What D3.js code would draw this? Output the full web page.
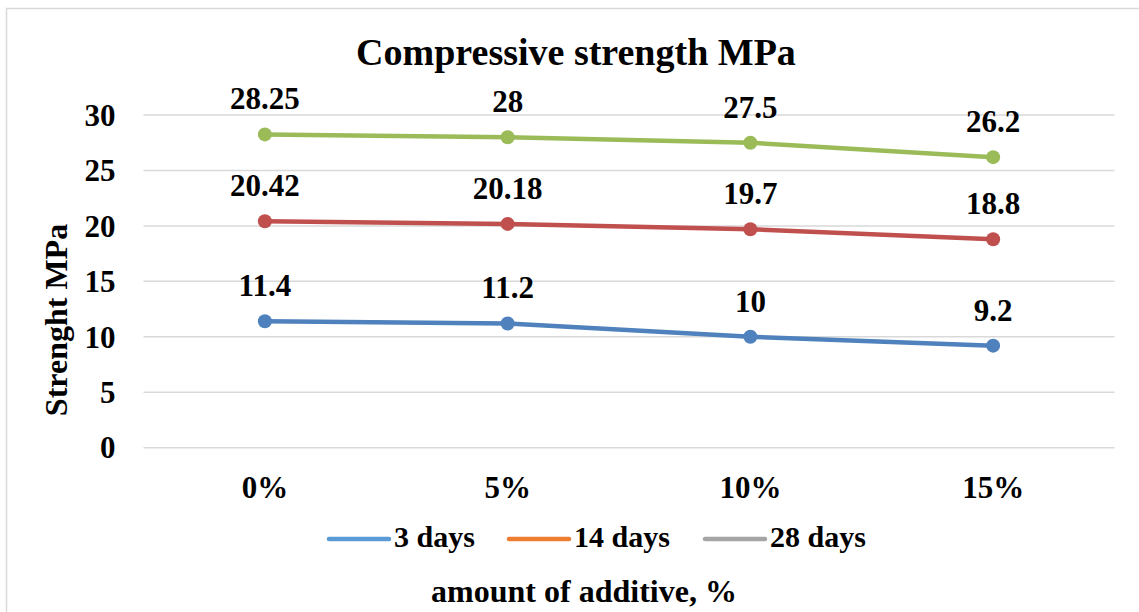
<!DOCTYPE html>
<html>
<head>
<meta charset="utf-8">
<script src="https://cdn.jsdelivr.net/npm/d3@7"></script>
<style>
  html, body { margin: 0; padding: 0; background: #ffffff; }
  svg { display: block; }
  text { font-family: "Liberation Serif", "Times New Roman", serif; font-weight: bold; fill: #000; }
</style>
</head>
<body>
<svg id="chart" width="1139" height="612"></svg>
<script>
// Compressive strength by additive amount and curing age
const categories = ["0%", "5%", "10%", "15%"];
const seriesNames = ["3 days", "14 days", "28 days"];
const days3 = [11.4, 11.2, 10, 9.2];
const days14 = [20.42, 20.18, 19.7, 18.8];
const days28 = [28.25, 28, 27.5, 26.2];
const yTicks = [0, 5, 10, 15, 20, 25, 30];

const lineColors = ["#4f81bd", "#c0504d", "#9bbb59"];
const legendColors = ["#5b9bd5", "#ed7d31", "#a5a5a5"];

const series = [
  { name: seriesNames[0], values: days3 },
  { name: seriesNames[1], values: days14 },
  { name: seriesNames[2], values: days28 }
];

const svg = d3.select("#chart");

// outer chart frame
svg.append("rect")
  .attr("x", 6.5).attr("y", 8.5)
  .attr("width", 1150).attr("height", 620)
  .attr("fill", "#fff")
  .attr("stroke", "#d9d9d9").attr("stroke-width", 1.5);

const plot = { left: 143.5, right: 1114.5, top: 115, bottom: 447.7 };

const x = d3.scaleBand().domain(categories).range([plot.left, plot.right]);
const y = d3.scaleLinear().domain([0, 30]).range([plot.bottom, plot.top]);
const cx = c => x(c) + x.bandwidth() / 2;

// horizontal gridlines
svg.append("g")
  .selectAll("line")
  .data(yTicks)
  .join("line")
  .attr("x1", plot.left).attr("x2", plot.right)
  .attr("y1", d => y(d)).attr("y2", d => y(d))
  .attr("stroke", "#d9d9d9").attr("stroke-width", 1.5);

// y axis tick labels
const yAxis = svg.append("g")
  .attr("transform", `translate(${plot.left - 28},0)`)
  .call(d3.axisLeft(y).tickValues(yTicks).tickSize(0).tickPadding(0));
yAxis.select(".domain").remove();
yAxis.selectAll("text")
  .attr("font-size", 31)
  .attr("font-family", null)
  .attr("dy", "0.33em");

// category labels
const xAxis = svg.append("g")
  .attr("transform", `translate(0,${plot.bottom})`)
  .call(d3.axisBottom(x).tickSize(0).tickPadding(0));
xAxis.select(".domain").remove();
xAxis.selectAll("text")
  .attr("font-size", 31)
  .attr("font-family", null)
  .attr("dy", null)
  .attr("y", 50);

// series lines, markers and value labels
const line = d3.line().x((d, i) => cx(categories[i])).y(d => y(d));

series.forEach((s, k) => {
  const g = svg.append("g");
  g.append("path")
    .datum(s.values)
    .attr("d", line)
    .attr("fill", "none")
    .attr("stroke", lineColors[k])
    .attr("stroke-width", 4.5)
    .attr("stroke-linejoin", "round")
    .attr("stroke-linecap", "round");
  g.selectAll("circle")
    .data(s.values)
    .join("circle")
    .attr("cx", (d, i) => cx(categories[i]))
    .attr("cy", d => y(d))
    .attr("r", 7)
    .attr("fill", lineColors[k]);
  g.selectAll("text")
    .data(s.values)
    .join("text")
    .attr("x", (d, i) => cx(categories[i]))
    .attr("y", d => y(d) - 25)
    .attr("text-anchor", "middle")
    .attr("font-size", 31)
    .text(d => String(d));
});

// title
svg.append("text")
  .attr("x", 576).attr("y", 65)
  .attr("text-anchor", "middle")
  .attr("font-size", 38)
  .text("Compressive strength MPa");

// y axis title
svg.append("text")
  .attr("transform", "translate(67,320) rotate(-90)")
  .attr("text-anchor", "middle")
  .attr("font-size", 32)
  .text("Strenght MPa");

// legend
const legendX = [327, 507, 703];
const legend = svg.append("g");
seriesNames.forEach((name, k) => {
  legend.append("line")
    .attr("x1", legendX[k] + 2).attr("x2", legendX[k] + 62)
    .attr("y1", 539).attr("y2", 539)
    .attr("stroke", legendColors[k])
    .attr("stroke-width", 4.5)
    .attr("stroke-linecap", "round");
  legend.append("text")
    .attr("x", legendX[k] + 67).attr("y", 547)
    .attr("font-size", 30)
    .text(name);
});

// x axis title
svg.append("text")
  .attr("x", 584).attr("y", 602)
  .attr("text-anchor", "middle")
  .attr("font-size", 32)
  .text("amount of additive, %");
</script>
</body>
</html>
